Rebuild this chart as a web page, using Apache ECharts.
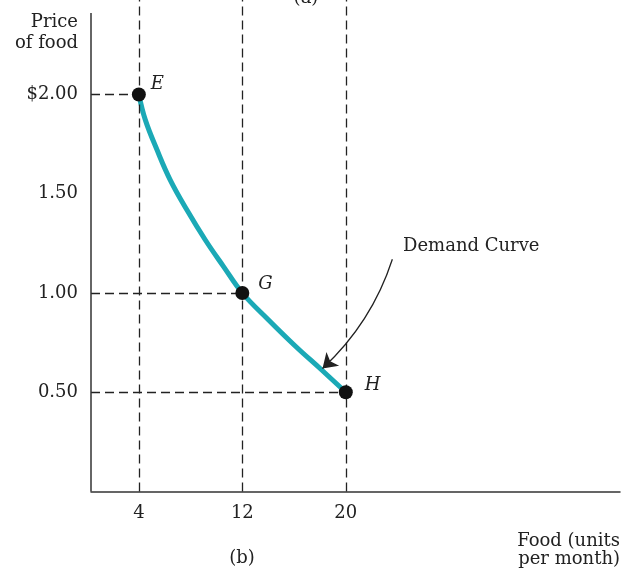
<!DOCTYPE html>
<html>
<head>
<meta charset="utf-8">
<script src="https://cdn.jsdelivr.net/npm/echarts@6/dist/echarts.min.js"></script>
<style>
html,body{margin:0;padding:0;background:#fff;}
#chart{width:623px;height:568px;}
</style>
</head>
<body>
<div id="chart"></div>
<script>
// ---- data ----
const xTickValues = [4, 12, 20];
const xTickLabels = ['4', '12', '20'];
const yTickValues = [0.5, 1.0, 1.5, 2.0];
const yTickLabels = ['0.50', '1.00', '1.50', '$2.00'];
const pointNames = ['E', 'G', 'H'];
const pointQuantity = [4, 12, 20];
const pointPrice = [2.00, 1.00, 0.50];
const curveQuantity = [4, 4.50, 5.41, 6.43, 7.72, 9.14, 10.55, 12, 14.03, 16.09, 18.14, 20];
const curvePrice = [2.0, 1.872, 1.720, 1.569, 1.418, 1.267, 1.133, 1.0, 0.864, 0.733, 0.612, 0.5];
const arrowFrom = [23.6, 1.17];
const arrowTo = [18.2, 0.62];
const xMin = 0.3, xMax = 41.2;
const yMin = 0, yMax = 2.476, yAxisTop = 2.41;

// ---- chart ----
const FONT = '"DejaVu Serif", "Liberation Serif", serif';
const FS = 18;
const dash = { color: '#222', width: 1.3, type: [9, 5] };
const chart = echarts.init(document.getElementById('chart'));

const guideLines = [];
pointQuantity.forEach((q, i) => {
  guideLines.push([{ coord: [q, yMin] }, { coord: [q, yMax] }]);
  guideLines.push([{ coord: [xMin, pointPrice[i]] }, { coord: [q, pointPrice[i]] }]);
});
guideLines.push([
  { coord: [xMin, yMin], lineStyle: { type: 'solid', width: 1.5, color: '#333' } },
  { coord: [xMin, yAxisTop] }
]);

const option = {
  animation: false,
  grid: { left: 91, right: 3, top: 0, bottom: 76.5, containLabel: false },
  xAxis: {
    type: 'value', min: xMin, max: xMax,
    axisLine: { show: true, lineStyle: { color: '#333', width: 1.5 } },
    axisTick: { show: false },
    splitLine: { show: false },
    axisLabel: {
      customValues: xTickValues,
      formatter: v => xTickLabels[xTickValues.indexOf(v)],
      fontFamily: FONT, fontSize: FS, color: '#222', margin: 13
    }
  },
  yAxis: {
    type: 'value', min: yMin, max: yMax,
    axisLine: { show: false },
    axisTick: { show: false },
    splitLine: { show: false },
    axisLabel: {
      customValues: yTickValues,
      formatter: v => yTickLabels[yTickValues.indexOf(v)],
      fontFamily: FONT, fontSize: FS, color: '#222', margin: 13
    }
  },
  series: [
    {
      type: 'line',
      data: curveQuantity.map((q, i) => [q, curvePrice[i]]),
      smooth: 0.4,
      showSymbol: false,
      silent: true,
      lineStyle: { color: '#1ba9b6', width: 5 },
      z: 3,
      markLine: {
        silent: true,
        symbol: 'none',
        label: { show: false },
        lineStyle: dash,
        data: guideLines
      }
    },
    {
      type: 'lines',
      coordinateSystem: 'cartesian2d',
      silent: true,
      z: 4,
      symbol: ['none', 'arrow'],
      symbolSize: [11, 14],
      lineStyle: { color: '#222', width: 1.3, type: 'solid', curveness: 0.13, opacity: 1 },
      data: [{ coords: [arrowFrom, arrowTo] }]
    },
    {
      type: 'scatter',
      z: 5,
      symbolSize: 14,
      itemStyle: { color: '#111', opacity: 1 },
      label: {
        show: true, position: 'right', distance: 8,
        formatter: '{b}',
        fontFamily: FONT, fontStyle: 'italic', fontSize: FS, color: '#222'
      },
      data: pointNames.map((n, i) => ({
        name: n,
        value: [pointQuantity[i], pointPrice[i]],
        label: { offset: i === 0 ? [-3, -10] : (i === 1 ? [1, -9] : [4, -7]) }
      }))
    }
  ],
  graphic: [
    { type: 'text', x: 78, y: 22, style: { text: 'Price', font: FS + 'px ' + FONT, fill: '#222', textAlign: 'right', textVerticalAlign: 'middle' } },
    { type: 'text', x: 78, y: 43, style: { text: 'of food', font: FS + 'px ' + FONT, fill: '#222', textAlign: 'right', textVerticalAlign: 'middle' } },
    { type: 'text', x: 620, y: 541, style: { text: 'Food (units', font: FS + 'px ' + FONT, fill: '#222', textAlign: 'right', textVerticalAlign: 'middle' } },
    { type: 'text', x: 620, y: 559, style: { text: 'per month)', font: FS + 'px ' + FONT, fill: '#222', textAlign: 'right', textVerticalAlign: 'middle' } },
    { type: 'text', x: 242, y: 558, style: { text: '(b)', font: FS + 'px ' + FONT, fill: '#222', textAlign: 'center', textVerticalAlign: 'middle' } },
    { type: 'text', x: 306, y: -2, style: { text: '(a)', font: FS + 'px ' + FONT, fill: '#222', textAlign: 'center', textVerticalAlign: 'middle' } },
    { type: 'text', x: 403, y: 246, style: { text: 'Demand Curve', font: FS + 'px ' + FONT, fill: '#222', textAlign: 'left', textVerticalAlign: 'middle' } }
  ]
};
chart.setOption(option);
</script>
</body>
</html>
